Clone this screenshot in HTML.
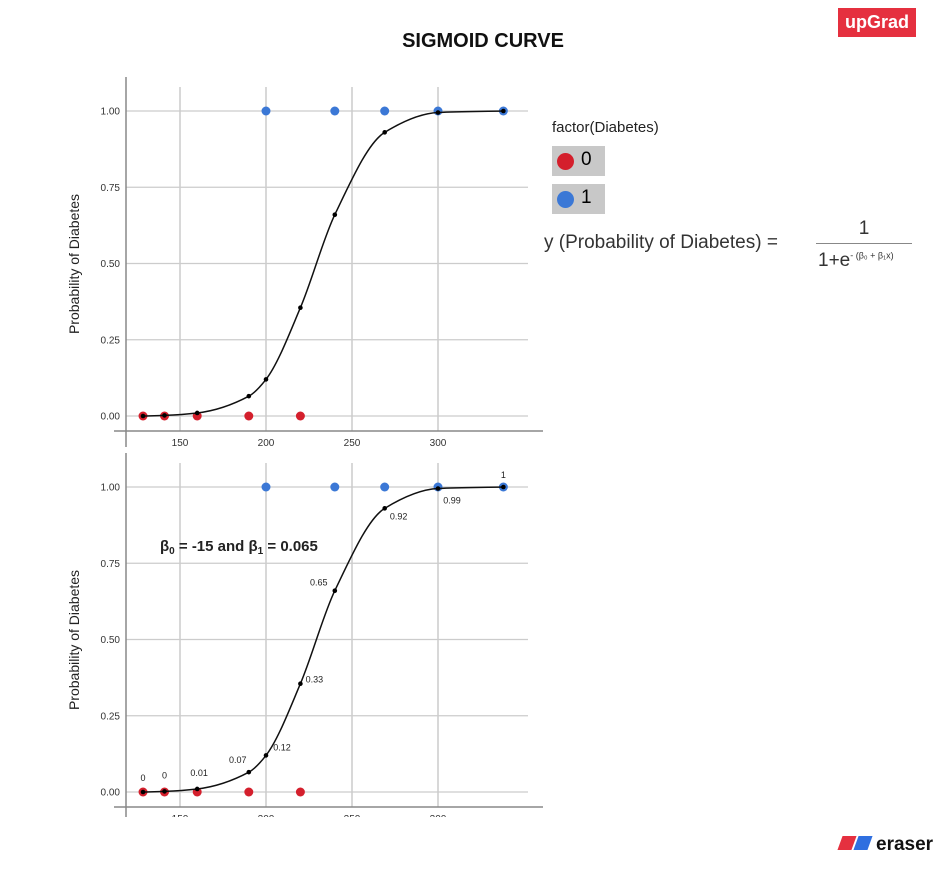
<!DOCTYPE html>
<html><head><meta charset="utf-8"><style>
body{margin:0;width:950px;height:896px;background:#fff;font-family:"Liberation Sans",sans-serif;overflow:hidden;position:relative}
.abs{position:absolute}
</style></head><body>
<div class="abs" style="left:383px;top:30px;width:200px;text-align:center;font-weight:bold;font-size:20px;color:#111">SIGMOID CURVE</div>
<div class="abs" style="left:838px;top:8px;width:78px;height:29px;background:#e5303f;color:#fff;font-weight:bold;font-size:18px;line-height:29px;text-align:center">upGrad</div>
<div class="abs" style="left:840px;top:834px;font-size:19px;font-weight:bold;color:#111"><span style="display:inline-block;width:14px;height:14px;background:#e5303f;transform:skewX(-20deg);margin-right:2px"></span><span style="display:inline-block;width:14px;height:14px;background:#2f6fe0;transform:skewX(-20deg);margin-right:6px"></span>eraser</div>

<div class="abs" style="left:552px;top:119px;font-size:15px;color:#222">factor(Diabetes)</div>
<div class="abs" style="left:552px;top:146px;width:53px;height:30px;background:#c8c8c8"><span style="position:absolute;left:5px;top:7px;width:17px;height:17px;border-radius:50%;background:#d41f2c"></span><span style="position:absolute;left:29px;top:3px;font-size:19px">0</span></div>
<div class="abs" style="left:552px;top:184px;width:53px;height:30px;background:#c8c8c8"><span style="position:absolute;left:5px;top:7px;width:17px;height:17px;border-radius:50%;background:#3b78d6"></span><span style="position:absolute;left:29px;top:3px;font-size:19px">1</span></div>
<div class="abs" style="left:544px;top:232px;font-size:19px;color:#333">y (Probability of Diabetes) =</div>
<div class="abs" style="left:816px;top:218px;width:96px;text-align:center;font-size:19px;color:#333">1</div>
<div class="abs" style="left:816px;top:243px;width:96px;height:1px;background:#888"></div>
<div class="abs" style="left:818px;top:250px;font-size:19px;color:#333">1+e<sup style="font-size:9px">- (β₀ + β₁x)</sup></div>

<svg class="abs" style="left:0;top:0" width="950" height="896">
<g id="top"></g>
<defs><clipPath id="clipb"><rect x="0" y="450" width="950" height="367"/></clipPath></defs>
<g id="bot" clip-path="url(#clipb)"></g>
<text x="160" y="551" font-size="15" font-weight="bold" fill="#222">β<tspan font-size="10" dy="3">0</tspan><tspan dy="-3"> = -15 and β</tspan><tspan font-size="10" dy="3">1</tspan><tspan dy="-3"> = 0.065</tspan></text>
</svg>
<script>
const redX=[128.5,141,160,190,220];
const blueX=[200,240,269,300,338];
const fitX=[128.5,141,160,190,200,220,240,269,300,338];
const fitY=[0,0.002,0.01,0.065,0.12,0.355,0.66,0.93,0.995,1.0];
const fitLabels=["0","0","0.01","0.07","0.12","0.33","0.65","0.92","0.99","1"];
const xTicks=[150,200,250,300];
const yTicks=[0,0.25,0.5,0.75,1];
const yTickLabels=["0.00","0.25","0.50","0.75","1.00"];
const NS="http://www.w3.org/2000/svg";
function mk(p,t,a){const e=document.createElementNS(NS,t);for(const k in a)e.setAttribute(k,a[k]);p.appendChild(e);return e;}
const sx=v=>180+(v-150)*1.72;
function monotonePath(P){
  const n=P.length,dl=[],m=[];
  for(let i=0;i<n-1;i++)dl.push((P[i+1][1]-P[i][1])/(P[i+1][0]-P[i][0]));
  m[0]=dl[0];m[n-1]=dl[n-2];
  for(let i=1;i<n-1;i++){if(dl[i-1]*dl[i]<=0)m[i]=0;else{const h0=P[i][0]-P[i-1][0],h1=P[i+1][0]-P[i][0];
    const w1=2*h1+h0,w2=h1+2*h0;m[i]=(w1+w2)/(w1/dl[i-1]+w2/dl[i]);}}
  let d=`M${P[0][0]},${P[0][1]}`;
  for(let i=0;i<n-1;i++){const h=(P[i+1][0]-P[i][0])/3;
    d+=` C${P[i][0]+h},${P[i][1]+m[i]*h} ${P[i+1][0]-h},${P[i+1][1]-m[i+1]*h} ${P[i+1][0]},${P[i+1][1]}`;}
  return d;
}
function draw(g,off,labels){
  const sy=v=>416+off-v*305;
  for(const t of xTicks){const l=mk(g,'line',{x1:sx(t),x2:sx(t),y1:87+off,y2:431+off,stroke:'#ccc','stroke-width':1.5});
    
    const tx=mk(g,'text',{x:sx(t),y:446+off,'font-size':10,fill:'#333','text-anchor':'middle'});tx.textContent=t;
    }
  yTicks.forEach((t,i)=>{const l=mk(g,'line',{x1:126,x2:528,y1:sy(t),y2:sy(t),stroke:'#ccc','stroke-width':1.2});
    
    const tx=mk(g,'text',{x:120,y:sy(t)+3.5,'font-size':10,fill:'#333','text-anchor':'end'});tx.textContent=yTickLabels[i];
    });
  let a=mk(g,'line',{x1:126,x2:126,y1:77+off,y2:447+off,stroke:'#888','stroke-width':1.5});
  
  a=mk(g,'line',{x1:114,x2:543,y1:431+off,y2:431+off,stroke:'#888','stroke-width':1.5});
  
  const yt=mk(g,'text',{x:0,y:0,'font-size':14,fill:'#222','text-anchor':'middle',transform:`translate(79,${264+off}) rotate(-90)`});yt.textContent='Probability of Diabetes';
  
  for(const x of redX){const c=mk(g,'circle',{cx:sx(x),cy:sy(0),r:4.5,fill:'#d41f2c'});}
  for(const x of blueX){const c=mk(g,'circle',{cx:sx(x),cy:sy(1),r:4.5,fill:'#3b78d6'});}
  const P=fitX.map((x,i)=>[sx(x),sy(fitY[i])]);
  const c=mk(g,'path',{d:monotonePath(P),fill:'none',stroke:'#111','stroke-width':1.5});
  P.forEach((p,i)=>{const e=mk(g,'circle',{cx:p[0],cy:p[1],r:2.3,fill:'#000'});
    if(labels){const dx=[0,0,2,-11,16,14,-16,14,14,0][i],dy=[-14,-16,-16,-12,-8,-4,-8,8,12,-12][i];
      const t=mk(g,'text',{x:p[0]+dx,y:p[1]+dy+3,'font-size':9,fill:'#222','text-anchor':'middle'});t.textContent=fitLabels[i];
      }});
}
draw(document.getElementById('top'),0,false);
draw(document.getElementById('bot'),376,true);
</script>
</body></html>
